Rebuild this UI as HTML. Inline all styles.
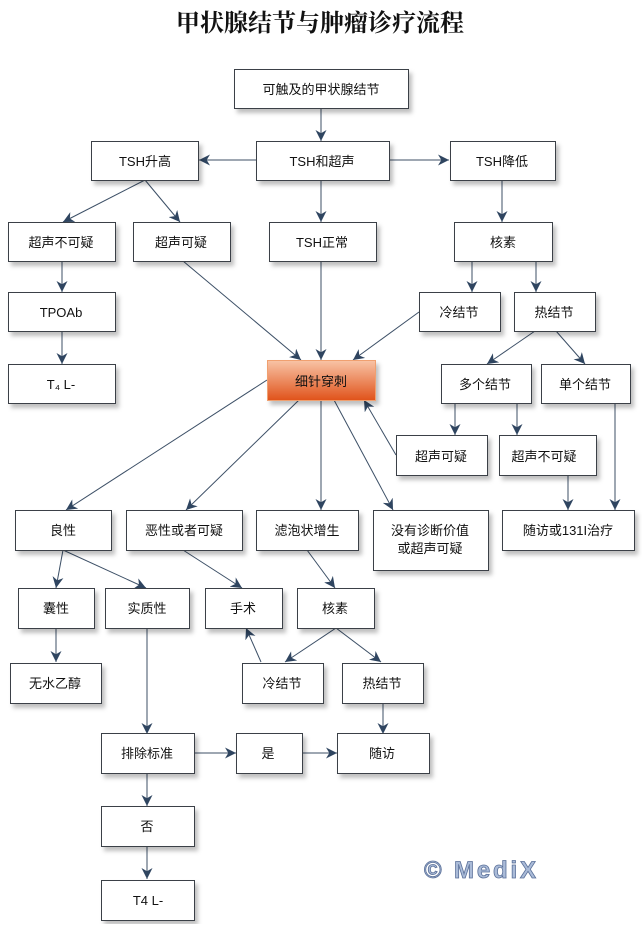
<!DOCTYPE html>
<html><head><meta charset="utf-8"><style>
body{margin:0;background:#fff}
svg text{font-family:"Liberation Sans","Noto Sans CJK SC",sans-serif;font-size:13px;fill:#111}
</style></head><body>
<svg width="642" height="924" viewBox="0 0 642 924" xmlns="http://www.w3.org/2000/svg">
<defs>
<marker id="a" viewBox="0 0 10 10" refX="10" refY="5" markerWidth="11" markerHeight="11" markerUnits="userSpaceOnUse" orient="auto"><path d="M0,0L10,5L0,10L3,5z" fill="#2f4560"/></marker>
<linearGradient id="g" x1="0" y1="0" x2="0" y2="1"><stop offset="0" stop-color="#f8c4a6"/><stop offset="1" stop-color="#e0521a"/></linearGradient>
<filter id="s" x="-10%" y="-10%" width="130%" height="140%"><feDropShadow dx="3" dy="4" stdDeviation="2" flood-color="#000" flood-opacity="0.25"/></filter>
</defs>
<text x="320" y="31" text-anchor="middle" style="font-size:24px;font-weight:bold;font-family:'Liberation Serif','Noto Serif CJK SC',serif">甲状腺结节与肿瘤诊疗流程</text>
<g stroke="#3c4f66" stroke-width="1" fill="none" marker-end="url(#a)">
<line x1="321" y1="108" x2="321" y2="141"/>
<line x1="256" y1="160" x2="199" y2="160"/>
<line x1="389" y1="160" x2="449" y2="160"/>
<line x1="145" y1="180" x2="63" y2="222"/>
<line x1="145" y1="180" x2="180" y2="222"/>
<line x1="321" y1="180" x2="321" y2="222"/>
<line x1="502" y1="180" x2="502" y2="222"/>
<line x1="62" y1="261" x2="62" y2="292"/>
<line x1="62" y1="331" x2="62" y2="364"/>
<line x1="183" y1="261" x2="301" y2="360"/>
<line x1="321" y1="261" x2="321" y2="360"/>
<line x1="419" y1="312" x2="353" y2="360"/>
<line x1="472" y1="261" x2="472" y2="292"/>
<line x1="536" y1="261" x2="536" y2="292"/>
<line x1="535" y1="331" x2="487" y2="364"/>
<line x1="556" y1="331" x2="585" y2="364"/>
<line x1="455" y1="403" x2="455" y2="435"/>
<line x1="517" y1="403" x2="517" y2="435"/>
<line x1="615" y1="403" x2="615" y2="510"/>
<line x1="396" y1="455" x2="364" y2="400"/>
<line x1="568" y1="475" x2="568" y2="510"/>
<line x1="267" y1="380" x2="66" y2="510"/>
<line x1="299" y1="400" x2="186" y2="510"/>
<line x1="321" y1="400" x2="321" y2="510"/>
<line x1="334" y1="400" x2="393" y2="510"/>
<line x1="63" y1="550" x2="56" y2="588"/>
<line x1="63" y1="550" x2="146" y2="588"/>
<line x1="183" y1="550" x2="242" y2="588"/>
<line x1="307" y1="550" x2="335" y2="588"/>
<line x1="56" y1="628" x2="56" y2="662"/>
<line x1="147" y1="628" x2="147" y2="734"/>
<line x1="261" y1="662" x2="246" y2="628"/>
<line x1="336" y1="628" x2="285" y2="662"/>
<line x1="336" y1="628" x2="381" y2="662"/>
<line x1="383" y1="702" x2="383" y2="734"/>
<line x1="194" y1="753" x2="236" y2="753"/>
<line x1="302" y1="753" x2="337" y2="753"/>
<line x1="147" y1="773" x2="147" y2="806"/>
<line x1="147" y1="846" x2="147" y2="879"/>
</g>
<g stroke="#3b3f46" stroke-width="1" fill="#fff" filter="url(#s)">
<rect x="234.5" y="69.5" width="174" height="39"/>
<rect x="91.5" y="141.5" width="107" height="39"/>
<rect x="256.5" y="141.5" width="133" height="39"/>
<rect x="450.5" y="141.5" width="105" height="39"/>
<rect x="8.5" y="222.5" width="107" height="39"/>
<rect x="133.5" y="222.5" width="97" height="39"/>
<rect x="269.5" y="222.5" width="107" height="39"/>
<rect x="454.5" y="222.5" width="98" height="39"/>
<rect x="8.5" y="292.5" width="107" height="39"/>
<rect x="419.5" y="292.5" width="81" height="39"/>
<rect x="514.5" y="292.5" width="81" height="39"/>
<rect x="8.5" y="364.5" width="107" height="39"/>
<rect x="441.5" y="364.5" width="90" height="39"/>
<rect x="541.5" y="364.5" width="89" height="39"/>
<rect x="396.5" y="435.5" width="91" height="40"/>
<rect x="499.5" y="435.5" width="97" height="40"/>
<rect x="15.5" y="510.5" width="96" height="40"/>
<rect x="126.5" y="510.5" width="116" height="40"/>
<rect x="256.5" y="510.5" width="102" height="40"/>
<rect x="373.5" y="510.5" width="115" height="60"/>
<rect x="502.5" y="510.5" width="132" height="40"/>
<rect x="18.5" y="588.5" width="76" height="40"/>
<rect x="105.5" y="588.5" width="84" height="40"/>
<rect x="205.5" y="588.5" width="77" height="40"/>
<rect x="297.5" y="588.5" width="77" height="40"/>
<rect x="10.5" y="663.5" width="91" height="40"/>
<rect x="242.5" y="663.5" width="81" height="40"/>
<rect x="342.5" y="663.5" width="81" height="40"/>
<rect x="101.5" y="733.5" width="93" height="40"/>
<rect x="236.5" y="733.5" width="66" height="40"/>
<rect x="337.5" y="733.5" width="92" height="40"/>
<rect x="101.5" y="806.5" width="93" height="40"/>
<rect x="101.5" y="880.5" width="93" height="40"/>
</g>
<rect x="267.5" y="360.5" width="108" height="40" fill="url(#g)" stroke="#f0a070" filter="url(#s)"/>
<g text-anchor="middle">
<text x="321" y="94">可触及的甲状腺结节</text>
<text x="145" y="166">TSH升高</text>
<text x="322" y="166">TSH和超声</text>
<text x="502" y="166">TSH降低</text>
<text x="61" y="247">超声不可疑</text>
<text x="181" y="247">超声可疑</text>
<text x="322" y="247">TSH正常</text>
<text x="503" y="247">核素</text>
<text x="61" y="317">TPOAb</text>
<text x="459" y="317">冷结节</text>
<text x="554" y="317">热结节</text>
<text x="61" y="389">T₄ L-</text>
<text x="321" y="386">细针穿刺</text>
<text x="485" y="389">多个结节</text>
<text x="585" y="389">单个结节</text>
<text x="441" y="461">超声可疑</text>
<text x="544" y="461">超声不可疑</text>
<text x="63" y="535">良性</text>
<text x="184" y="535">恶性或者可疑</text>
<text x="307" y="535">滤泡状增生</text>
<text x="430" y="535">没有诊断价值</text>
<text x="430" y="553">或超声可疑</text>
<text x="568" y="535">随访或131I治疗</text>
<text x="56" y="613">囊性</text>
<text x="147" y="613">实质性</text>
<text x="243" y="613">手术</text>
<text x="335" y="613">核素</text>
<text x="55" y="688">无水乙醇</text>
<text x="282" y="688">冷结节</text>
<text x="382" y="688">热结节</text>
<text x="147" y="758">排除标准</text>
<text x="268" y="758">是</text>
<text x="382" y="758">随访</text>
<text x="147" y="831">否</text>
<text x="148" y="905">T4 L-</text>
</g>
<text x="424" y="878" textLength="112" style="font-size:24px;font-weight:bold;fill:#aabbd8;stroke:#5a7099;stroke-width:0.8">© MediX</text>
</svg>
</body></html>
